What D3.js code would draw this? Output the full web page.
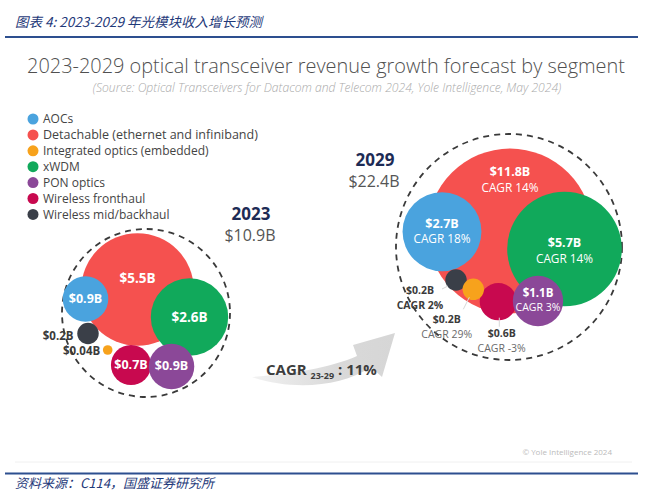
<!DOCTYPE html>
<html><head><meta charset="utf-8">
<script src="https://cdn.jsdelivr.net/npm/d3@7"></script>
<style>body{margin:0;background:#fff}svg{display:block}</style>
</head><body><svg id="c" width="661" height="500"></svg>
<script>
// ---------------- DATA ----------------
const segments = ["AOCs","Detachable (ethernet and infiniband)","Integrated optics (embedded)","xWDM","PON optics","Wireless fronthaul","Wireless mid/backhaul"];
const years = [2023, 2029];
const revenue2023 = [0.9, 5.5, 0.04, 2.6, 0.9, 0.7, 0.2];
const revenue2029 = [2.7, 11.8, 0.2, 5.7, 1.1, 0.6, 0.2];
const cagr2329 = [18, 14, 29, 14, 3, -3, 2];
const totals = [10.9, 22.4];
const overallCagr = 11;
const cagrPeriod = "23-29";

// ---------------- STYLE / LAYOUT ----------------
const palette = ["#4aa3de","#f5514f","#f7a21c","#11a95b","#8b4898","#c8094f","#3a3f48"];
const drawOrder = [1,3,0,5,4,6,2];
// bubble centre offsets from cluster centre (px)
const offsets = [
  [[-60.5,-14],[-8.5,-23.5],[-38.3,37],[43.5,4],[25.5,53.5],[-15,52],[-58,20.5]],
  [[-67,-15.3],[1,-16],[-35.7,42.3],[55.5,2],[29,54],[-10.7,54.7],[-53,33]]
];
// label placement: in = inside bubble (dy value, dy cagr); out = outside (dx, dy, anchor)
const labelSpec = [
  [{m:"in",v:0},{m:"in",v:-11},{m:"out",dx:-7.5,dy:0.7,a:"end"},{m:"in",v:0},{m:"in",v:-1},{m:"in",v:0},{m:"out",dx:-14.5,dy:2,a:"end"}],
  [{m:"in",v:-8.5,c:7.5},{m:"in",v:-59,c:-43},{m:"out",dx:-26.6,dy:30.5,a:"middle",c:14.5,cg:"light"},{m:"in",v:-6,c:10},{m:"in",v:-8.5,c:6},{m:"out",dx:3.4,dy:31.3,a:"middle",c:15.5,cg:"light"},{m:"out",dx:-36,dy:10.5,a:"middle",c:14.5,cg:"bold"}]
];
const leaders = [null, [null,null,[[-4,8],[-10,20]],null,null,[[1,16],[1,25]],[[-8,6],[-14,9]]]];

const svg = d3.select("#c");
const FONT = "'Open Sans', 'Noto Sans', sans-serif";
const CJK = "'Noto Sans CJK SC', sans-serif";

function fit(sel, w){ const n = sel.node(); const l = n.getComputedTextLength(); const fs = parseFloat(sel.attr("font-size")); sel.attr("font-size", fs*w/l); }

// header
svg.append("text").attr("x",15).attr("y",27).attr("font-family",CJK).attr("font-size",13.5)
  .attr("font-style","italic").attr("fill","#1f3a7a").text("图表 4:  2023-2029 年光模块收入增长预测");
svg.append("line").attr("x1",5).attr("x2",638).attr("y1",37).attr("y2",37).attr("stroke","#2d4f8f").attr("stroke-width",2);

// title
const t = svg.append("text").attr("x",326).attr("y",72.5).attr("text-anchor","middle").attr("font-family",FONT)
  .attr("font-size",20).attr("font-weight",300).attr("fill","#505050").text("2023-2029 optical transceiver revenue growth forecast by segment");
fit(t, 598);
const st = svg.append("text").attr("x",327).attr("y",92).attr("text-anchor","middle").attr("font-family",FONT)
  .attr("font-size",10).attr("font-style","italic").attr("font-weight",300).attr("fill","#aaaaaa")
  .text("(Source: Optical Transceivers for Datacom and Telecom 2024, Yole Intelligence, May 2024)");
fit(st, 469);

// legend
const lg = svg.append("g");
segments.forEach((s,i)=>{
  const y = 119 + i*15.9;
  lg.append("circle").attr("cx",33).attr("cy",y).attr("r",5.5).attr("fill",palette[i]);
  const tt = lg.append("text").attr("x",43).attr("y",y).attr("dy","0.35em").attr("font-family",FONT).attr("font-size",12)
    .attr("fill","#444").text(s);
  if(i===1) fit(tt,215);
});

// scales
const rScale = d3.scaleSqrt().domain([0, d3.max(revenue2029)]).range([0, 24*Math.sqrt(d3.max(revenue2029))]);
const cx = d3.scaleLinear().domain(years).range([146, 509]);
const cy = d3.scaleLinear().domain(years).range([313, 247]);
const encR = d3.scaleLinear().domain(totals).range([84, 113]);

const series = [revenue2023, revenue2029];
const fmt = v => "$" + v + "B";

years.forEach((yr, k)=>{
  const g = svg.append("g");
  const X = cx(yr), Y = cy(yr);
  g.append("circle").attr("cx",X).attr("cy",Y).attr("r",encR(totals[k])).attr("fill","none")
    .attr("stroke","#3a3a3a").attr("stroke-width",1.8).attr("stroke-dasharray","6,5");
  const data = drawOrder.map(i=>({i, v:series[k][i], x:X+offsets[k][i][0], y:Y+offsets[k][i][1]}));
  g.selectAll("circle.b").data(data).join("circle").attr("class","b")
    .attr("cx",d=>d.x).attr("cy",d=>d.y).attr("r",d=>rScale(d.v)).attr("fill",d=>palette[d.i]);
  data.forEach(d=>{
    const sp = labelSpec[k][d.i];
    const big = d.v >= 1.5;
    if(sp.m==="in"){
      g.append("text").attr("x",d.x).attr("y",d.y+sp.v).attr("dy","0.35em").attr("text-anchor","middle")
        .attr("font-family",FONT).attr("fill","#fff").attr("font-weight",700)
        .attr("font-size", k===0 ? (big?13.5:12.5) : (big?12.5:11.5)).text(fmt(d.v));
      if(k===1) g.append("text").attr("x",d.x).attr("y",d.y+sp.c).attr("dy","0.35em").attr("text-anchor","middle")
        .attr("font-family",FONT).attr("fill","#fff").attr("font-weight",400).attr("font-size", big?11.8:10.5)
        .text("CAGR " + cagr2329[d.i] + "%");
    } else {
      if(leaders[k] && leaders[k][d.i]){
        const L = leaders[k][d.i];
        g.append("line").attr("x1",d.x+L[0][0]).attr("y1",d.y+L[0][1]).attr("x2",d.x+L[1][0]).attr("y2",d.y+L[1][1])
          .attr("stroke","#d8d8d8").attr("stroke-width",1);
      }
      g.append("text").attr("x",d.x+sp.dx).attr("y",d.y+sp.dy).attr("dy","0.35em").attr("text-anchor",sp.a)
        .attr("font-family",FONT).attr("font-size",k===1?10.5:11.5).attr("font-weight",700).attr("fill","#3b3b3b").text(fmt(d.v));
      if(k===1) g.append("text").attr("x",d.x+sp.dx).attr("y",d.y+sp.dy+sp.c).attr("dy","0.35em").attr("text-anchor",sp.a)
        .attr("font-family",FONT).attr("font-size",10.5).attr("font-weight",sp.cg==="bold"?700:400)
        .attr("fill",sp.cg==="bold"?"#3b3b3b":"#6a6a6a").text("CAGR " + cagr2329[d.i] + "%");
    }
  });
});

// year headings
const heads = [[251,220],[375,166]];
years.forEach((yr,k)=>{
  svg.append("text").attr("x",heads[k][0]).attr("y",heads[k][1]).attr("text-anchor","middle").attr("font-family",FONT)
    .attr("font-weight",700).attr("font-size",17).attr("fill","#1d2b55").text(yr);
  svg.append("text").attr("x",heads[k][0]-1).attr("y",heads[k][1]+21).attr("text-anchor","middle").attr("font-family",FONT)
    .attr("font-weight",400).attr("font-size",16).attr("fill","#555").text(fmt(totals[k]));
});

// arrow
const defs = svg.append("defs");
const gr = defs.append("linearGradient").attr("id","ag").attr("x1","0%").attr("x2","100%");
gr.append("stop").attr("offset","0%").attr("stop-color","#f2f2f2");
gr.append("stop").attr("offset","60%").attr("stop-color","#d9d9d9");
gr.append("stop").attr("offset","100%").attr("stop-color","#d6d6d6");
svg.append("path").attr("fill","url(#ag)")
  .attr("d","M252,377 C290,374 330,368 357,356 L353,345 L395,333 L382,377 L371,367 C340,388 290,390 252,377 Z");
const ct = svg.append("text").attr("x",266).attr("y",375).attr("font-family",FONT).attr("font-weight",700)
  .attr("font-size",15).attr("fill","#3d3d3d");
ct.append("tspan").text("CAGR ");
ct.append("tspan").attr("font-size",9).attr("dy",4).text(cagrPeriod);
ct.append("tspan").attr("dy",-4).text(" : " + overallCagr + "%");

// footer
svg.append("text").attr("x",612).attr("y",455).attr("text-anchor","end").attr("font-family",FONT).attr("font-size",8)
  .attr("fill","#bbb").text("© Yole Intelligence 2024");
svg.append("line").attr("x1",15).attr("x2",632).attr("y1",462).attr("y2",462).attr("stroke","#f0f0f0").attr("stroke-width",1);
svg.append("line").attr("x1",5).attr("x2",638).attr("y1",473.5).attr("y2",473.5).attr("stroke","#2d4f8f").attr("stroke-width",2);
svg.append("text").attr("x",15).attr("y",488).attr("font-family",CJK).attr("font-size",13).attr("font-style","italic")
  .attr("fill","#1f3a7a").text("资料来源：C114，国盛证券研究所");
</script></body></html>
